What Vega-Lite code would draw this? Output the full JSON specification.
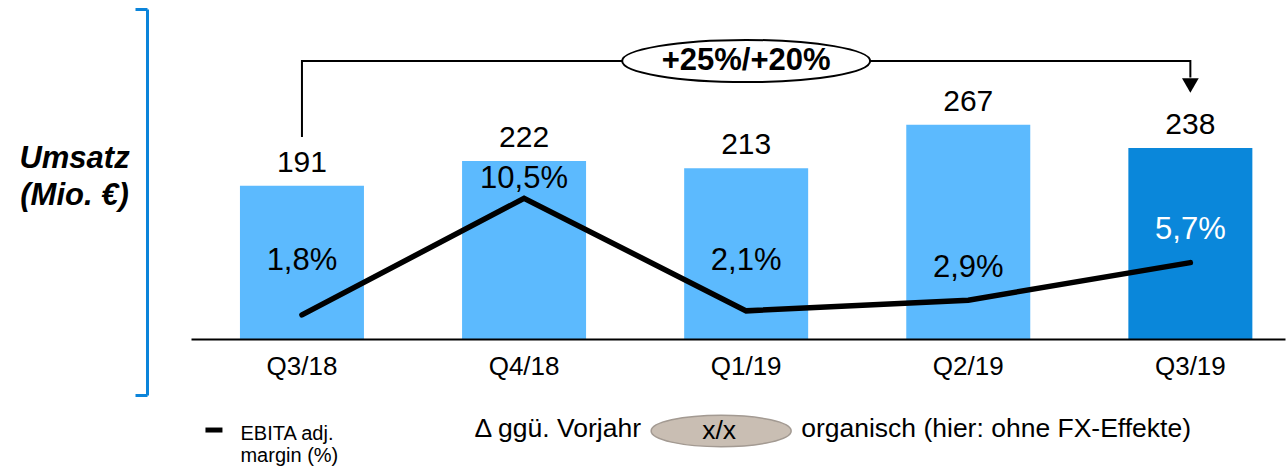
{
  "$schema": "https://vega.github.io/schema/vega-lite/v6.json",
  "width": 1094,
  "height": 386,
  "autosize": {"type": "none"},
  "padding": {"left": 191, "top": 9, "right": 3, "bottom": 72},
  "background": "white",
  "config": {"view": {"stroke": null}, "font": "Liberation Sans", "text": {"font": "Liberation Sans", "color": "black"}},
  "datasets": {
    "quarters": [
      {"q": "Q3/18", "umsatz": 191, "margin": 1.8, "label": "1,8%", "labelAt": 5.82},
      {"q": "Q4/18", "umsatz": 222, "margin": 10.5, "label": "10,5%", "labelAt": 11.94},
      {"q": "Q1/19", "umsatz": 213, "margin": 2.1, "label": "2,1%", "labelAt": 5.82},
      {"q": "Q2/19", "umsatz": 267, "margin": 2.9, "label": "2,9%", "labelAt": 5.3},
      {"q": "Q3/19", "umsatz": 238, "margin": 5.7, "label": "5,7%", "labelAt": 8.13}
    ],
    "bracket": [
      {"q": "Q3/18", "v": 252, "step": 1},
      {"q": "Q3/18", "v": 346.6, "step": 2},
      {"q": "Q3/19", "v": 346.6, "step": 3},
      {"q": "Q3/19", "v": 326, "step": 4}
    ]
  },
  "resolve": {"scale": {"y": "independent"}},
  "layer": [
    {
      "data": {"name": "quarters"},
      "layer": [
        {
          "mark": {"type": "bar"},
          "encoding": {
            "x": {
              "field": "q", "type": "nominal", "sort": null,
              "scale": {"domain": ["Q3/18", "Q4/18", "Q1/19", "Q2/19", "Q3/19"], "paddingInner": 0.4417, "paddingOuter": 0.1837, "align": 0.6},
              "axis": {"orient": "bottom", "offset": -56, "title": null, "ticks": false, "tickSize": 0, "domainColor": "black", "domainWidth": 2, "labelFontSize": 26, "labelColor": "black", "labelPadding": 14, "labelFont": "Liberation Sans", "labelAngle": 0, "zindex": 1}
            },
            "y": {
              "field": "umsatz", "type": "quantitative",
              "scale": {"domain": [-69.83, 411.47], "nice": false, "zero": false},
              "axis": {"orient": "left", "offset": 44, "values": [-69.83, 411.47], "labels": false, "grid": false, "domainColor": "#0B84DA", "domainWidth": 3, "tickColor": "#0B84DA", "tickWidth": 3, "tickSize": 12, "title": ["Umsatz", "(Mio. €)"], "titleAngle": 0, "titleAlign": "center", "titleBaseline": "alphabetic", "titleX": -73, "titleY": 158, "titleFontSize": 31, "titleFontStyle": "italic", "titleFontWeight": "bold", "titleColor": "black", "titleFont": "Liberation Sans", "titleLineHeight": 37}
            },
            "y2": {"datum": 0},
            "color": {"condition": {"test": "datum.q === 'Q3/19'", "value": "#0A87DA"}, "value": "#5CBAFE"}
          }
        },
        {
          "mark": {"type": "text", "baseline": "alphabetic", "dy": -14, "fontSize": 30},
          "encoding": {
            "x": {"field": "q", "type": "nominal"},
            "y": {"field": "umsatz", "type": "quantitative"},
            "text": {"field": "umsatz", "type": "quantitative"}
          }
        },
        {
          "data": {"name": "bracket"},
          "mark": {"type": "line", "color": "black", "strokeWidth": 2},
          "encoding": {
            "x": {"field": "q", "type": "nominal"},
            "y": {"field": "v", "type": "quantitative"},
            "order": {"field": "step", "type": "quantitative"}
          }
        },
        {
          "data": {"values": [{}]},
          "mark": {"type": "point", "shape": "triangle-down", "filled": true, "color": "black", "size": 280, "opacity": 1},
          "encoding": {"x": {"datum": "Q3/19"}, "y": {"datum": 316}}
        },
        {
          "data": {"values": [{}]},
          "mark": {"type": "point", "shape": "M-1,0C-1,-0.0939,-0.5523,-0.17,0,-0.17C0.5523,-0.17,1,-0.0939,1,0C1,0.0939,0.5523,0.17,0,0.17C-0.5523,0.17,-1,0.0939,-1,0Z", "fill": "white", "stroke": "black", "strokeWidth": 2, "size": 61504, "opacity": 1},
          "encoding": {"x": {"datum": "Q1/19"}, "y": {"datum": 346.6}}
        },
        {
          "data": {"values": [{}]},
          "mark": {"type": "text", "text": "+25%/+20%", "fontSize": 31, "fontWeight": "bold", "baseline": "middle"},
          "encoding": {"x": {"datum": "Q1/19"}, "y": {"datum": 346.6}}
        },
        {
          "data": {"values": [{}]},
          "mark": {"type": "point", "shape": "stroke", "strokeWidth": 5, "color": "black", "size": 289, "opacity": 1, "xOffset": -88},
          "encoding": {"x": {"datum": "Q3/18"}, "y": {"datum": -113.5}}
        },
        {
          "data": {"values": [{}]},
          "mark": {"type": "text", "text": ["EBITA adj.", "margin (%)"], "align": "left", "baseline": "alphabetic", "fontSize": 20, "lineHeight": 22, "xOffset": -61.5},
          "encoding": {"x": {"datum": "Q3/18"}, "y": {"datum": -125.9}}
        },
        {
          "data": {"values": [{}]},
          "mark": {"type": "text", "text": "Δ ggü. Vorjahr", "align": "left", "baseline": "alphabetic", "fontSize": 26.5, "xOffset": -49.6},
          "encoding": {"x": {"datum": "Q4/18"}, "y": {"datum": -122.2}}
        },
        {
          "data": {"values": [{}]},
          "mark": {"type": "point", "shape": "M-1,0C-1,-0.124,-0.5523,-0.225,0,-0.225C0.5523,-0.225,1,-0.124,1,0C1,0.124,0.5523,0.225,0,0.225C-0.5523,0.225,-1,0.124,-1,0Z", "fill": "#C9BEB3", "stroke": "#A39A92", "strokeWidth": 1.5, "size": 19600, "opacity": 1, "xOffset": -25},
          "encoding": {"x": {"datum": "Q1/19"}, "y": {"datum": -114.7}}
        },
        {
          "data": {"values": [{}]},
          "mark": {"type": "text", "text": "x/x", "align": "center", "baseline": "middle", "fontSize": 26.5, "xOffset": -27},
          "encoding": {"x": {"datum": "Q1/19"}, "y": {"datum": -114.7}}
        },
        {
          "data": {"values": [{}]},
          "mark": {"type": "text", "text": "organisch (hier: ohne FX-Effekte)", "align": "left", "baseline": "alphabetic", "fontSize": 26.5, "xOffset": 55},
          "encoding": {"x": {"datum": "Q1/19"}, "y": {"datum": -122.2}}
        }
      ]
    },
    {
      "data": {"name": "quarters"},
      "layer": [
        {
          "mark": {"type": "line", "color": "black", "strokeWidth": 5.5, "strokeCap": "round", "strokeJoin": "miter"},
          "encoding": {
            "x": {"field": "q", "type": "nominal"},
            "y": {"field": "margin", "type": "quantitative", "scale": {"domain": [-4.18, 24.63], "nice": false, "zero": false}, "axis": null}
          }
        },
        {
          "mark": {"type": "text", "baseline": "middle", "fontSize": 31},
          "encoding": {
            "x": {"field": "q", "type": "nominal"},
            "y": {"field": "labelAt", "type": "quantitative"},
            "text": {"field": "label", "type": "nominal"},
            "color": {"condition": {"test": "datum.q === 'Q3/19'", "value": "white"}, "value": "black"}
          }
        }
      ]
    }
  ]
}
